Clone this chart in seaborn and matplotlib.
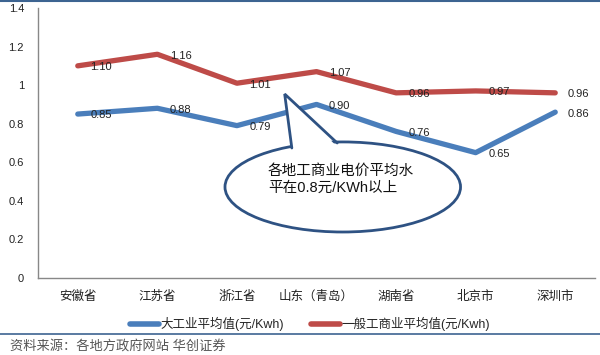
import pandas as pd
import seaborn as sns
import matplotlib.pyplot as plt
from matplotlib.patches import Ellipse, Polygon
from matplotlib.lines import Line2D

regions = ["安徽省", "江苏省", "浙江省", "山东（青岛）", "湖南省", "北京市", "深圳市"]
big_industry = [0.85, 0.88, 0.79, 0.90, 0.76, 0.65, 0.86]
general_comm = [1.10, 1.16, 1.01, 1.07, 0.96, 0.97, 0.96]
series_names = ["大工业平均值(元/Kwh)", "一般工商业平均值(元/Kwh)"]

BLUE = "#4A7EBB"
RED = "#BE4B48"
EDGE = "#2E5283"

df = pd.DataFrame({"地区": regions, series_names[0]: big_industry, series_names[1]: general_comm})
df = df.melt(id_vars="地区", var_name="系列", value_name="值")

sns.set_style("white")
plt.rcParams["font.family"] = ["Liberation Sans", "Noto Sans CJK SC"]

fig = plt.figure(figsize=(6, 3.55), dpi=100)
ax = fig.add_axes([0.0633, 0.2169, 0.9284, 0.7606])

sns.lineplot(data=df, x="地区", y="值", hue="系列", palette=[BLUE, RED],
             linewidth=3.8, sort=False, ax=ax)

# data labels right of each point
for vals in (big_industry, general_comm):
    for i, v in enumerate(vals):
        ax.annotate("%.2f" % v, (i, v), xytext=(9, -1), textcoords="offset points",
                    ha="left", va="center", fontsize=8, color="#222222")

ax.set_xlim(-0.5, len(regions) - 0.5)
ax.set_ylim(0, 1.4)
ax.set_yticks([0, 0.2, 0.4, 0.6, 0.8, 1.0, 1.2, 1.4])
ax.set_yticklabels(["0", "0.2", "0.4", "0.6", "0.8", "1", "1.2", "1.4"])
ax.tick_params(axis="y", length=0, pad=10, labelsize=8, colors="#222222")
ax.tick_params(axis="x", length=0, pad=9, labelsize=9, colors="#222222")
ax.set_xlabel("")
ax.set_ylabel("")
for s in ["top", "right"]:
    ax.spines[s].set_visible(False)
for s in ["left", "bottom"]:
    ax.spines[s].set_color("#888888")
    ax.spines[s].set_linewidth(1)

# callout bubble
ell = Ellipse((3.33, 0.472), 2.96, 0.467, facecolor="white", edgecolor=EDGE,
              linewidth=2, zorder=5)
ax.add_patch(ell)
cover = Polygon([(2.69, 0.655), (2.60, 0.954), (3.26, 0.68)], closed=True,
                facecolor="white", edgecolor="none", zorder=6)
ax.add_patch(cover)
ax.plot([2.69, 2.60, 3.26], [0.674, 0.954, 0.700], color=EDGE, linewidth=2,
        zorder=7, solid_joinstyle="miter")
ax.text(2.39, 0.511, "各地工商业电价平均水\n平在0.8元/KWh以上", fontsize=10.5,
        ha="left", va="center", linespacing=1.25, color="#111111", zorder=8)

leg = ax.legend(loc="center", bbox_to_anchor=(0.517, 0.0873), bbox_transform=fig.transFigure,
                ncol=2, frameon=False, fontsize=9, handlelength=2.3,
                handletextpad=0.1, columnspacing=2.2)
for h in leg.get_lines():
    h.set_linewidth(4)

# frame lines and source note
fig.add_artist(Line2D([0, 1], [0.997, 0.997], color="#3D6491", linewidth=1.5))
fig.add_artist(Line2D([0, 1], [1 - 334 / 355, 1 - 334 / 355], color="#3D6491", linewidth=1.2))
fig.text(0.0167, 1 - 346 / 355, "资料来源：各地方政府网站 华创证券", fontsize=9.5,
         color="#555555", ha="left", va="center")

plt.savefig("out.png", dpi=100)
